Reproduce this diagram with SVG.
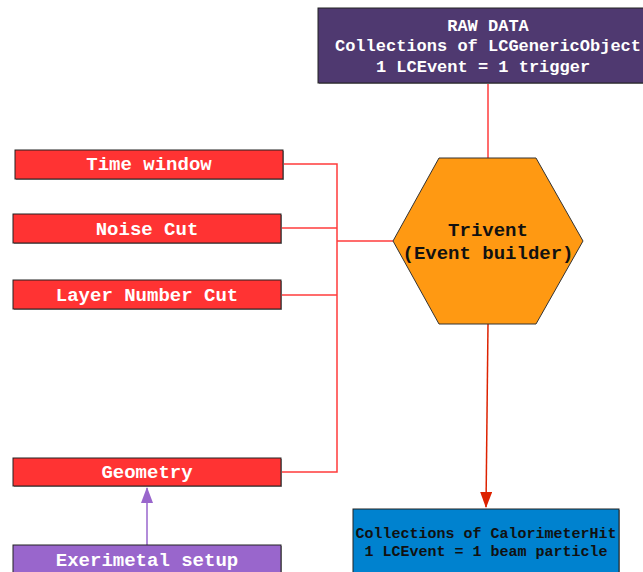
<svg xmlns="http://www.w3.org/2000/svg" width="643" height="572" viewBox="0 0 643 572">
<style>
.box{stroke:#222;stroke-width:1}
.red{fill:#ff3333}
.shadow{fill:#999}
.t{font-family:"Liberation Mono","Courier New",monospace;font-weight:bold;text-anchor:middle}
.w{fill:#fff}
.k{fill:#111}
.conn{fill:none;stroke:#ff3b3b;stroke-width:1.5}
</style>
<defs>
<marker id="arrRed" markerWidth="16" markerHeight="12" refX="15" refY="6" orient="auto" markerUnits="userSpaceOnUse" viewBox="0 0 16 12">
<path d="M0,0 L16,6 L0,12 Z" fill="#dd2200"/>
</marker>
<marker id="arrPurple" markerWidth="16" markerHeight="12" refX="15" refY="6" orient="auto" markerUnits="userSpaceOnUse" viewBox="0 0 16 12">
<path d="M0,0 L16,6 L0,12 Z" fill="#9966cc"/>
</marker>
</defs>
<rect width="643" height="572" fill="#fff"/>
<g id="connectors">
<path class="conn" d="M488,83 L488,158"/>
<path class="conn" d="M283,164 L337,164 L337,472 L281,472"/>
<path class="conn" d="M281,228 L337,228"/>
<path class="conn" d="M281,295 L337,295"/>
<path class="conn" d="M337,241 L393,241"/>
<path d="M488,324 L486,507" fill="none" stroke="#dd2200" stroke-width="1.5" marker-end="url(#arrRed)"/>
<path d="M147,545 L147,488" fill="none" stroke="#9966cc" stroke-width="1.5" marker-end="url(#arrPurple)"/>
</g>
<g id="raw-data">
<rect x="319" y="9" width="340" height="75" class="shadow"/>
<rect x="318" y="8" width="340" height="75" fill="#4f3970" class="box"/>
<text class="t w" font-size="17" x="488" y="31">RAW DATA</text>
<text class="t w" font-size="17" x="488" y="51">Collections of LCGenericObject</text>
<text class="t w" font-size="17" x="483" y="72">1 LCEvent = 1 trigger</text>
</g>
<g id="trivent">
<polygon points="393,241 439,158 536,158 583,241 536,324 439,324" fill="#ff9912" stroke="#333" stroke-width="1"/>
<text class="t k" font-size="19" x="488" y="236">Trivent</text>
<text class="t k" font-size="19" x="488" y="259">(Event builder)</text>
</g>
<g id="time-window">
<rect x="16" y="151" width="268" height="29" class="shadow"/>
<rect x="15" y="150" width="268" height="29" class="box red"/>
<text class="t w" font-size="19" x="149" y="170">Time window</text>
</g>
<g id="noise-cut">
<rect x="14" y="215" width="268" height="29" class="shadow"/>
<rect x="13" y="214" width="268" height="29" class="box red"/>
<text class="t w" font-size="19" x="147" y="235">Noise Cut</text>
</g>
<g id="layer-number-cut">
<rect x="14" y="281" width="268" height="29" class="shadow"/>
<rect x="13" y="280" width="268" height="29" class="box red"/>
<text class="t w" font-size="19" x="147" y="301">Layer Number Cut</text>
</g>
<g id="geometry">
<rect x="14" y="459" width="268" height="28" class="shadow"/>
<rect x="13" y="458" width="268" height="28" class="box red"/>
<text class="t w" font-size="19" x="147" y="478">Geometry</text>
</g>
<g id="experimental-setup">
<rect x="14" y="546" width="268" height="40" class="shadow"/>
<rect x="13" y="545" width="268" height="40" fill="#9966cc" class="box"/>
<text class="t w" font-size="19" x="147" y="566">Exerimetal setup</text>
</g>
<g id="calorimeter-hits">
<rect x="354" y="510" width="266" height="80" class="shadow"/>
<rect x="353" y="509" width="266" height="80" fill="#0082cf" class="box"/>
<text class="t k" font-size="15" x="486" y="538">Collections of CalorimeterHit</text>
<text class="t k" font-size="15" x="486" y="556">1 LCEvent = 1 beam particle</text>
</g>
</svg>
